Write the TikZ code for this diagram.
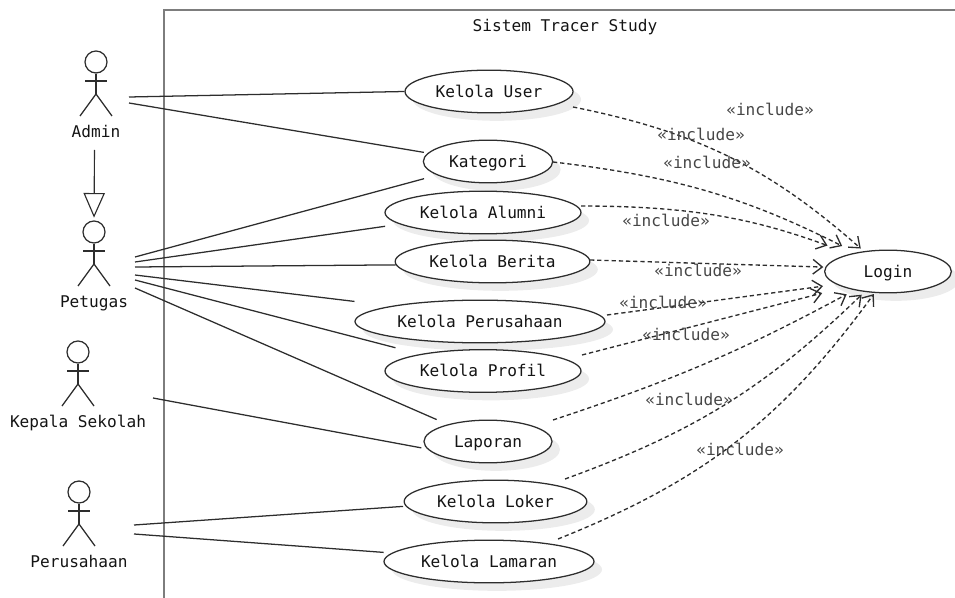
\documentclass[tikz,border=0pt]{standalone}
\usepackage{fontspec}
\setmainfont{DejaVu Sans Mono}
\usetikzlibrary{arrows.meta, shapes.geometric, shadows}
\definecolor{garis}{RGB}{45, 45, 45}
\definecolor{bingkai}{RGB}{125, 125, 125}
\definecolor{teks}{RGB}{20, 20, 20}
\definecolor{catatan}{RGB}{70, 70, 70}
\definecolor{bayang}{RGB}{236, 236, 236}
\tikzset{
    kasus/.style={draw=garis, ellipse, fill=white, text=teks, inner sep=0pt, line width=0.95pt, minimum height=32pt,
        drop shadow={shadow xshift=6pt, shadow yshift=-6pt, fill=bayang, opacity=1}},
    conn/.style={-, garis, line width=0.95pt},
    incl/.style={-{Straight Barb[length=7pt, width=11pt]}, garis, line width=1pt, dash pattern=on 3.2pt off 2.2pt},
    note/.style={text=catatan, inner sep=0pt},
    gener/.style={-{Triangle[open, length=18.5pt, width=16pt]}, garis, line width=0.85pt, shorten >=2pt},
    pics/actor/.style={code={
        \node[draw=garis, circle, line width=0.95pt, minimum size=16.5pt, inner sep=0pt] (-head) at (0,0) { };
        \draw[conn] (-head.south) -- (0,32);
        \draw[conn] (-11,19) -- (11,19);
        \draw[conn] (-16,54) -- (0,32) -- (16,54);
        \node[text=teks, inner sep=0pt] (-label) at (0,70) {#1};
    }},
}
\begin{document}
\begin{tikzpicture}[x=0.75pt, y=-0.75pt, font=\fontsize{12.1pt}{14pt}\selectfont,
            every node/.style={text height=10pt, text depth=1.25pt}]

            \useasboundingbox (0,0) rectangle (955,598);

            \draw[bingkai, line width=1.2pt] (164,598) -- (164,10) -- (955,10);
            \node[text=teks, inner sep=0pt] (judul) at (565,26) {Sistem Tracer Study};

            \pic (adm) at (96,62) {actor=Admin};
            \pic (pet) at (94,232) {actor=Petugas};
            \pic (kep) at (78,352) {actor=Kepala Sekolah};
            \pic (per) at (79,492) {actor=Perusahaan};

            \node[kasus, minimum width=126pt] (user) at (489,91.5) {Kelola User};
            \node[kasus, minimum width=97pt] (kategori) at (488,161.5) {Kategori};
            \node[kasus, minimum width=147pt] (alumni) at (483,212.5) {Kelola Alumni};
            \node[kasus, minimum width=146pt] (berita) at (492.5,261.5) {Kelola Berita};
            \node[kasus, minimum width=187.5pt] (perusahaan) at (480,321.5) {Kelola Perusahaan};
            \node[kasus, minimum width=147pt] (profil) at (483,371) {Kelola Profil};
            \node[kasus, minimum width=96pt] (laporan) at (488,441.5) {Laporan};
            \node[kasus, minimum width=137pt] (loker) at (495.5,501.5) {Kelola Loker};
            \node[kasus, minimum width=157.5pt] (lamaran) at (489,561.5) {Kelola Lamaran};
            \node[kasus, minimum width=95pt] (login) at (888,271.5) {Login};

            \coordinate (a1) at (129,97);
            \coordinate (a2) at (129,103);
            \coordinate (p1) at (135,257);
            \coordinate (p2) at (135,262);
            \coordinate (p3) at (135,267);
            \coordinate (p4) at (135,275);
            \coordinate (p5) at (135,280);
            \coordinate (p6) at (135,288);
            \coordinate (k1) at (153,398);
            \coordinate (r1) at (134,525);
            \coordinate (r2) at (134,534);
            \coordinate (g1) at (94.5,150);

            \draw[gener] (g1) -- (pet-head.north);

            \draw[conn] (a1) -- (user.west);
            \draw[conn, shorten >=3pt] (a2) -- (kategori.172);
            \draw[conn, shorten >=10pt] (p1) -- (kategori.195);
            \draw[conn, shorten >=11pt] (p2) -- (alumni.188);
            \draw[conn] (p3) -- (berita.182);
            \draw[conn, shorten >=28pt] (p4) -- (perusahaan.170);
            \draw[conn, shorten >=19pt] (p5) -- (profil.165);
            \draw[conn, shorten >=9pt] (p6) -- (laporan.157);
            \draw[conn, shorten >=4.5pt] (k1) -- (laporan.187);
            \draw[conn, shorten >=2pt] (r1) -- (loker.183);
            \draw[conn, shorten >=6pt] (r2) -- (lamaran.175);

            \coordinate (i1) at (573,107);
            \coordinate (i2) at (553,162);
            \coordinate (i3) at (581,206);
            \coordinate (i4) at (590,260);
            \coordinate (i5) at (607,315);
            \coordinate (i6) at (582,355);
            \coordinate (i7) at (553,420);
            \coordinate (i8) at (565,479);
            \coordinate (i9) at (558,539);

            \draw[incl, shorten >=3pt] (i1) to[bend left=15] (login.140);
            \draw[incl, shorten >=11pt] (i2) to[bend left=10] (login.150);
            \draw[incl, shorten >=18pt] (i3) to[bend left=10] (login.155);
            \draw[incl, shorten >=1.5pt] (i4) -- (login.176);
            \draw[incl, shorten >=10pt] (i5) -- (login.194);
            \draw[incl, shorten >=17pt] (i6) -- (login.200);
            \draw[incl, shorten >=6.5pt] (i7) to[bend right=5] (login.209);
            \draw[incl, shorten >=3pt] (i8) to[bend right=12] (login.221);
            \draw[incl, shorten >=1pt] (i9) to[bend right=16] (login.238);

            \node[note] (n1) at (770,110) {«include»};
            \node[note] (n2) at (701,135) {«include»};
            \node[note] (n3) at (707,163) {«include»};
            \node[note] (n4) at (666,221) {«include»};
            \node[note] (n5) at (698,271) {«include»};
            \node[note] (n6) at (663,303) {«include»};
            \node[note] (n7) at (686,335) {«include»};
            \node[note] (n8) at (689,400) {«include»};
            \node[note] (n9) at (740,450) {«include»};
        \end{tikzpicture}
\end{document}
